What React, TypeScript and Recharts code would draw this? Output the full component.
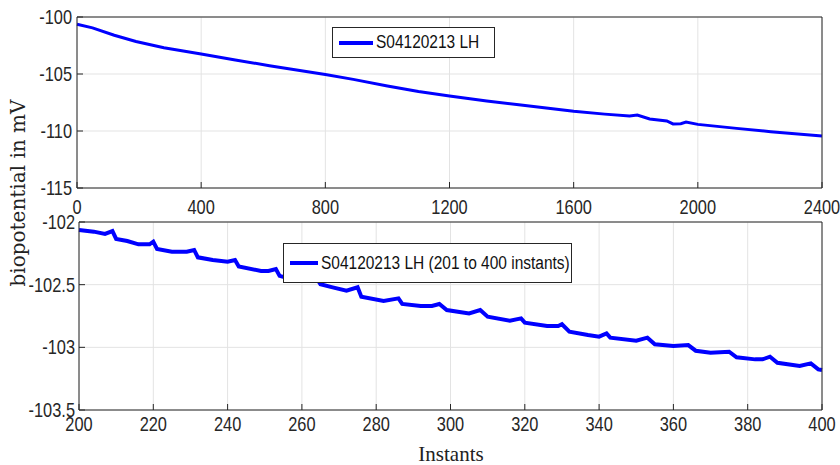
import { LineChart, Line, XAxis, YAxis, CartesianGrid, Legend } from "recharts";

// full recording, instants 0..2400
const topInstants = [0, 50, 120, 190, 280, 400, 510, 620, 800, 890, 1000, 1100, 1200, 1320, 1430, 1600, 1700, 1780, 1805, 1845, 1900, 1920, 1945, 1962, 2000, 2125, 2235, 2400];
const topValues = [-100.64, -100.95, -101.6, -102.15, -102.7, -103.25, -103.77, -104.27, -105.05, -105.47, -106.05, -106.53, -106.93, -107.37, -107.72, -108.27, -108.52, -108.68, -108.6, -108.95, -109.12, -109.38, -109.36, -109.22, -109.42, -109.77, -110.06, -110.44];

// zoom on instants 201..400
const zoomInstants = [200, 204, 207, 209, 210, 213, 216, 219, 220, 221, 225, 229, 231, 232, 236, 240, 242, 243, 249, 251, 253, 254, 259, 262, 264, 265, 268, 272, 275, 276, 282, 286, 287, 292, 295, 297, 299, 305, 308, 310, 316, 319, 320, 326, 329, 330, 332, 337, 340, 342, 343, 350, 353, 355, 360, 364, 366, 370, 375, 377, 382, 384, 386, 388, 394, 397, 399, 400];
const zoomValues = [-102.064, -102.077, -102.095, -102.072, -102.135, -102.152, -102.178, -102.178, -102.157, -102.215, -102.237, -102.237, -102.223, -102.282, -102.303, -102.317, -102.303, -102.355, -102.391, -102.391, -102.375, -102.43, -102.47, -102.465, -102.45, -102.497, -102.52, -102.548, -102.521, -102.596, -102.63, -102.609, -102.654, -102.67, -102.67, -102.654, -102.702, -102.729, -102.702, -102.756, -102.788, -102.769, -102.803, -102.83, -102.83, -102.816, -102.875, -102.902, -102.915, -102.889, -102.923, -102.947, -102.923, -102.976, -102.99, -102.982, -103.027, -103.043, -103.035, -103.08, -103.096, -103.096, -103.075, -103.123, -103.149, -103.128, -103.176, -103.181];

const topXTicks = [0, 400, 800, 1200, 1600, 2000, 2400];
const topYTicks = [-115, -110, -105, -100];
const zoomXTicks = [200, 220, 240, 260, 280, 300, 320, 340, 360, 380, 400];
const zoomYTicks = [-103.5, -103, -102.5, -102];

const topLabel = "S04120213 LH";
const zoomLabel = "S04120213 LH (201 to 400 instants)";

const topData = topInstants.map((t, i) => ({ t, v: topValues[i] }));
const zoomData = zoomInstants.map((t, i) => ({ t, v: zoomValues[i] }));

const blue = "#0000ff";
const axisColor = "#262626";
const gridColor = "#e3e3e3";
const tickFont = "'Liberation Sans', Arial, sans-serif";
const squeeze = 0.82; // the source picture is narrow-looking, so squash sans text

const makeXTick = (dy: number) => (props: any) => {
  const { x, y, payload } = props;
  return (
    <g>
      <line x1={x} x2={x} y1={y} y2={y - 6} stroke={axisColor} />
      <text transform={`translate(${x},${y + dy}) scale(${squeeze},1)`} textAnchor="middle" fill={axisColor} fontSize={20} fontFamily={tickFont}>
        {payload.value}
      </text>
    </g>
  );
};

const makeYTick = (gap: number) => (props: any) => {
  const { x, y, payload } = props;
  return (
    <g>
      <line x1={x} x2={x + 6} y1={y} y2={y} stroke={axisColor} />
      <text transform={`translate(${x - gap},${y + 7}) scale(${squeeze},1)`} textAnchor="end" fill={axisColor} fontSize={20} fontFamily={tickFont}>
        {payload.value}
      </text>
    </g>
  );
};

const legendBox = (label: string, w: number, h: number, lineW: number) => () => (
  <div
    style={{
      width: w,
      height: h,
      boxSizing: "border-box",
      border: `1px solid ${axisColor}`,
      background: "#fff",
      display: "flex",
      alignItems: "center",
      paddingLeft: 5,
      fontFamily: tickFont,
      fontSize: 18,
      color: "#111",
      whiteSpace: "nowrap",
      overflow: "hidden",
    }}
  >
    <svg width={lineW + 2} height={6} style={{ marginRight: 2, flexShrink: 0 }}>
      <line x1={1} x2={lineW + 1} y1={3} y2={3} stroke={blue} strokeWidth={4} />
    </svg>
    <span style={{ display: "inline-block", transform: "scaleX(0.86)", transformOrigin: "left center" }}>{label}</span>
  </div>
);

export default function App() {
  return (
    <div style={{ position: "absolute", left: 0, top: 0, width: 840, height: 465, background: "#fff", overflow: "hidden" }}>
      <div style={{ position: "absolute", left: 0, top: 0 }}>
        <LineChart width={840} height={230} data={topData} margin={{ top: 17, right: 18, left: 0, bottom: 12 }}>
          <CartesianGrid stroke={gridColor} />
          <XAxis dataKey="t" type="number" domain={[0, 2400]} ticks={topXTicks} height={30}
            tickSize={0} tickMargin={0} tickLine={false} axisLine={{ stroke: axisColor }} tick={makeXTick(26)} interval={0} />
          <XAxis xAxisId="top" dataKey="t" type="number" domain={[0, 2400]} ticks={topXTicks} orientation="top" mirror
            tick={false} tickSize={6} tickLine={{ stroke: axisColor }} axisLine={{ stroke: axisColor }} />
          <YAxis type="number" domain={[-115, -100]} ticks={topYTicks} width={77}
            tickSize={0} tickMargin={0} tickLine={false} axisLine={{ stroke: axisColor }} tick={makeYTick(5)} interval={0} />
          <YAxis yAxisId="right" type="number" domain={[-115, -100]} ticks={topYTicks} orientation="right" mirror
            tick={false} tickSize={6} tickLine={{ stroke: axisColor }} axisLine={{ stroke: axisColor }} />
          <Legend layout="vertical" verticalAlign="middle" align="center"
            wrapperStyle={{ left: 332, top: 27, width: 163, height: 31 }}
            content={legendBox(topLabel, 163, 31, 34)} />
          <Line dataKey="v" stroke={blue} strokeWidth={3} dot={false} isAnimationActive={false} type="linear" />
        </LineChart>
      </div>
      <div style={{ position: "absolute", left: 0, top: 200 }}>
        <LineChart width={840} height={265} data={zoomData} margin={{ top: 22, right: 18, left: 0, bottom: 25 }}>
          <CartesianGrid stroke={gridColor} />
          <XAxis dataKey="t" type="number" domain={[200, 400]} ticks={zoomXTicks} height={30}
            tickSize={0} tickMargin={0} tickLine={false} axisLine={{ stroke: axisColor }} tick={makeXTick(21)} interval={0} />
          <XAxis xAxisId="top" dataKey="t" type="number" domain={[200, 400]} ticks={zoomXTicks} orientation="top" mirror
            tick={false} tickSize={6} tickLine={{ stroke: axisColor }} axisLine={{ stroke: axisColor }} />
          <YAxis type="number" domain={[-103.5, -102]} ticks={zoomYTicks} width={79}
            tickSize={0} tickMargin={0} tickLine={false} axisLine={{ stroke: axisColor }} tick={makeYTick(4)} interval={0} />
          <YAxis yAxisId="right" type="number" domain={[-103.5, -102]} ticks={zoomYTicks} orientation="right" mirror
            tick={false} tickSize={6} tickLine={{ stroke: axisColor }} axisLine={{ stroke: axisColor }} />
          <Legend layout="vertical" verticalAlign="middle" align="center"
            wrapperStyle={{ left: 283, top: 43, width: 289, height: 40 }}
            content={legendBox(zoomLabel, 289, 40, 28)} />
          <Line dataKey="v" stroke={blue} strokeWidth={4} dot={false} isAnimationActive={false} type="linear" />
        </LineChart>
      </div>
      <svg width={840} height={465} style={{ position: "absolute", left: 0, top: 0, pointerEvents: "none" }}>
        <text x={25} y={193} transform="rotate(-90 25 193)" textAnchor="middle" fontFamily="'DejaVu Serif', serif" fontSize={20} fill="#222">
          biopotential in mV
        </text>
        <text x={451} y={461} textAnchor="middle" fontFamily="'Liberation Serif', serif" fontSize={21} fill="#222">
          Instants
        </text>
      </svg>
    </div>
  );
}
